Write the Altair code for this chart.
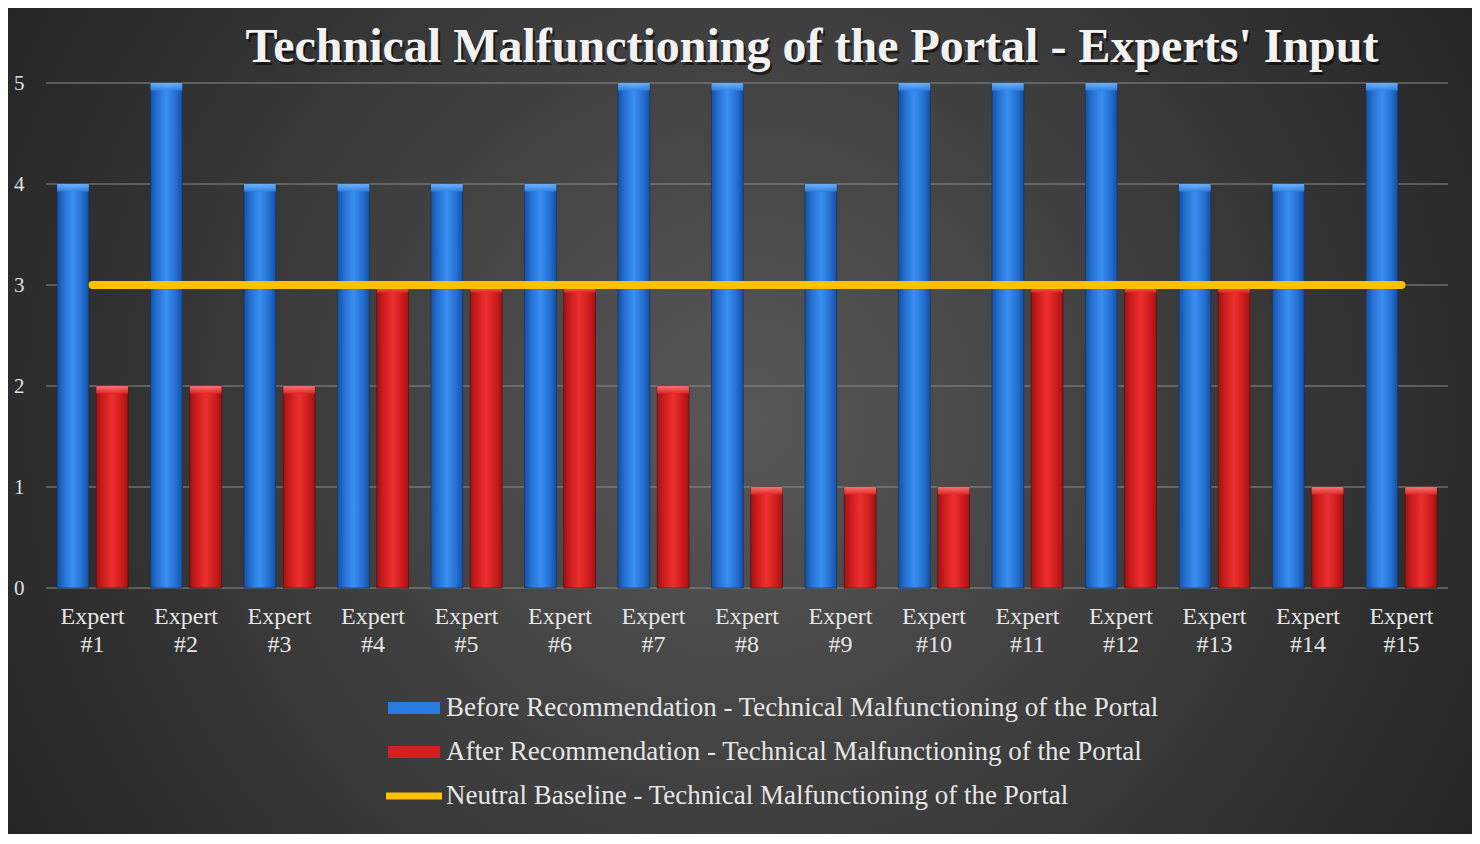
import altair as alt
import pandas as pd

experts = [f"Expert #{i}" for i in range(1, 16)]
before = [4, 5, 4, 4, 4, 4, 5, 5, 4, 5, 5, 5, 4, 4, 5]
after = [2, 2, 2, 3, 3, 3, 2, 1, 1, 1, 3, 3, 3, 1, 1]
baseline = [3] * 15
y_ticks = [0, 1, 2, 3, 4, 5]

S_BEFORE = "Before Recommendation - Technical Malfunctioning of the Portal"
S_AFTER = "After Recommendation - Technical Malfunctioning of the Portal"
S_BASE = "Neutral Baseline - Technical Malfunctioning of the Portal"
series_names = [S_BEFORE, S_AFTER, S_BASE]
series_colors = ["#2a7be0", "#d62020", "#ffc000"]

TITLE = "Technical Malfunctioning of the Portal - Experts' Input"

W, H = 1402, 505
PAD = {"left": 38, "top": 75, "right": 24, "bottom": 246}
FONT = "Liberation Serif"

bars_df = pd.DataFrame(
    {
        "expert": experts * 2,
        "series": [S_BEFORE] * 15 + [S_AFTER] * 15,
        "value": before + after,
    }
)
line_df = pd.DataFrame({"expert": experts, "value": baseline})
legend_df = pd.DataFrame({"series": series_names})
grid_df = pd.DataFrame({"value": y_ticks})
title_df = pd.DataFrame({"t": [TITLE]})

x_enc = alt.X(
    "expert:N",
    sort=experts,
    scale=alt.Scale(paddingInner=0.24, paddingOuter=0.118),
    axis=alt.Axis(
        title=None,
        labelExpr="split(datum.label, ' ')",
        labelAngle=0,
        labelFont=FONT,
        labelFontSize=24,
        labelLineHeight=28,
        labelColor="#e6e6e6",
        labelPadding=16,
        labelOverlap=False,
        ticks=False,
        domain=False,
        grid=False,
        zindex=2,
    ),
)
xoff_enc = alt.XOffset(
    "series:N", scale=alt.Scale(domain=[S_BEFORE, S_AFTER], paddingInner=0.19)
)
y_enc = alt.Y(
    "value:Q",
    scale=alt.Scale(domain=[0, 5], nice=False),
    axis=alt.Axis(
        title=None,
        values=y_ticks,
        format="d",
        labelFont=FONT,
        labelFontSize=21,
        labelColor="#e0e0e0",
        labelPadding=22,
        ticks=False,
        domain=False,
        grid=False,
        zindex=2,
    ),
)


def hgrad(edge, mid, center):
    return alt.Gradient(
        gradient="linear",
        x1=0, y1=0, x2=1, y2=0,
        stops=[
            alt.GradientStop(color=edge, offset=0),
            alt.GradientStop(color=mid, offset=0.2),
            alt.GradientStop(color=center, offset=0.5),
            alt.GradientStop(color=mid, offset=0.8),
            alt.GradientStop(color=edge, offset=1),
        ],
    )


def vgrad(top, bottom):
    return alt.Gradient(
        gradient="linear",
        x1=0, y1=0, x2=0, y2=1,
        stops=[
            alt.GradientStop(color=top, offset=0),
            alt.GradientStop(color=bottom, offset=1),
        ],
    )


background = (
    alt.Chart(pd.DataFrame({"k": [0]}))
    .mark_rect(
        color=alt.Gradient(
            gradient="radial",
            x1=0.5, y1=0.5, r1=0,
            x2=0.5, y2=0.5, r2=0.6,
            stops=[
                alt.GradientStop(color="#585858", offset=0),
                alt.GradientStop(color="#3a3a3a", offset=0.55),
                alt.GradientStop(color="#232323", offset=1),
            ],
        )
    )
    .encode(
        x=alt.value(-PAD["left"]),
        x2=alt.value(W + PAD["right"]),
        y=alt.value(-PAD["top"]),
        y2=alt.value(H + PAD["bottom"]),
    )
)

grid = (
    alt.Chart(grid_df)
    .mark_rule(color="#8c8c8c", strokeWidth=1)
    .encode(y=alt.Y("value:Q"))
)

title_shadow = (
    alt.Chart(title_df)
    .mark_text(
        font=FONT, fontSize=48, fontWeight="bold", color="#000000", opacity=0.55,
        align="center", baseline="alphabetic", dx=2, dy=3,
    )
    .encode(text="t:N", x=alt.value(W / 2 + 65), y=alt.value(-21))
)
title_text = (
    alt.Chart(title_df)
    .mark_text(
        font=FONT, fontSize=48, fontWeight="bold", color="#f2f2f2",
        align="center", baseline="alphabetic",
    )
    .encode(text="t:N", x=alt.value(W / 2 + 65), y=alt.value(-21))
)

base = alt.Chart(bars_df)

blue_bars = (
    base.transform_filter(alt.datum.series == S_BEFORE)
    .mark_bar(color=hgrad("#184f9e", "#236fd2", "#3a8ff0"), stroke="#103466", strokeWidth=1, strokeOpacity=0.7)
    .encode(x=x_enc, xOffset=xoff_enc, y=y_enc)
)
red_bars = (
    base.transform_filter(alt.datum.series == S_AFTER)
    .mark_bar(color=hgrad("#9e1414", "#cc1c1c", "#ec3030"), stroke="#5c0a0a", strokeWidth=1, strokeOpacity=0.7)
    .encode(x=x_enc, xOffset=xoff_enc, y=y_enc)
)

blue_top = (
    base.transform_filter(alt.datum.series == S_BEFORE)
    .transform_calculate(top2="datum.value - 0.075")
    .mark_bar(color=vgrad("#7cbcff", "#2f82e6"), opacity=0.85)
    .encode(x=x_enc, xOffset=xoff_enc, y=y_enc, y2="top2:Q")
)
red_top = (
    base.transform_filter(alt.datum.series == S_AFTER)
    .transform_calculate(top2="datum.value - 0.075")
    .mark_bar(color=vgrad("#ff8080", "#e02828"), opacity=0.85)
    .encode(x=x_enc, xOffset=xoff_enc, y=y_enc, y2="top2:Q")
)

line = (
    alt.Chart(line_df)
    .mark_line(color="#ffc000", strokeWidth=8, strokeCap="round")
    .encode(x=alt.X("expert:N", sort=experts), y="value:Q")
)

BAR_SYM = "M-1.3,-0.3L1.3,-0.3L1.3,0.3L-1.3,0.3Z"
LINE_SYM = "M-1.4,-0.17L1.4,-0.17L1.4,0.17L-1.4,0.17Z"


def make_leg():
    return alt.Legend(
        title=None,
        orient="none",
        legendX=348,
        legendY=605,
        direction="vertical",
        padding=0,
        labelFont=FONT,
        labelFontSize=27,
        labelColor="#e6e6e6",
        labelOffset=12,
        labelLimit=0,
        symbolSize=1600,
        symbolOpacity=1,
        symbolStrokeWidth=0,
        rowPadding=11,
        zindex=2,
    )


legend_layer = (
    alt.Chart(legend_df)
    .mark_point(filled=True, opacity=0)
    .encode(
        color=alt.Color(
            "series:N",
            sort=series_names,
            scale=alt.Scale(domain=series_names, range=series_colors),
            legend=make_leg(),
        ),
        shape=alt.Shape(
            "series:N",
            sort=series_names,
            scale=alt.Scale(domain=series_names, range=[BAR_SYM, BAR_SYM, LINE_SYM]),
            legend=make_leg(),
        ),
    )
)

chart = (
    alt.layer(
        background, grid, blue_bars, red_bars, blue_top, red_top, line,
        legend_layer, title_shadow, title_text,
    )
    .properties(
        width=W,
        height=H,
        padding=PAD,
        autosize=alt.AutoSizeParams(type="none"),
        background="#262626",
    )
    .configure_view(stroke=None)
)

chart.save("out.html", embed_options={"renderer": "svg", "actions": False})
